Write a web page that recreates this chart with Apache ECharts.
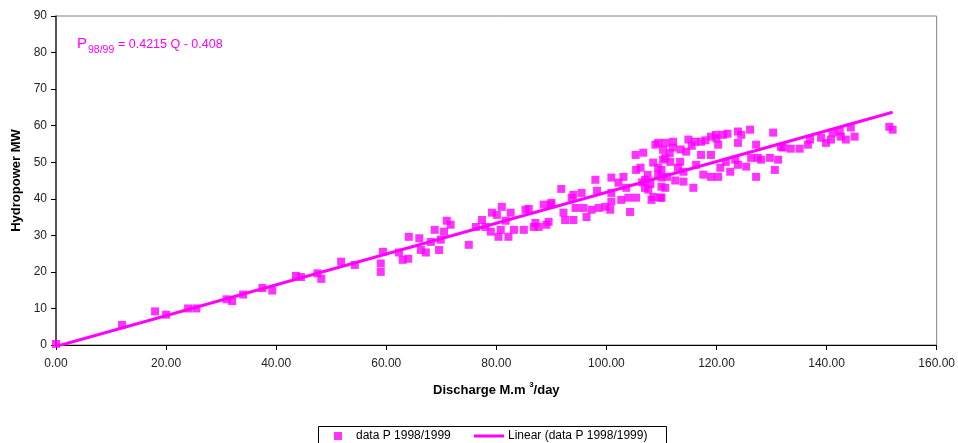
<!DOCTYPE html>
<html>
<head>
<meta charset="utf-8">
<title>Hydropower vs Discharge</title>
<script src="https://cdn.jsdelivr.net/npm/echarts@6/dist/echarts.min.js"></script>
<style>
  html, body { margin: 0; padding: 0; background: #fff; }
  #chart { width: 958px; height: 443px; }
</style>
</head>
<body>
<div id="chart"></div>
<script>
// Daily discharge (M.m3/day) and generated hydropower (MW), season 1998/1999
const discharge = [
  0, 12, 18, 20, 24, 25.5, 31, 32, 34, 37.5, 39.3, 43.6, 44.5, 47.5, 48.2,
  51.8, 54.3, 59.4, 59, 59, 62.3, 63, 64, 64.1, 66, 66.3, 67.2, 68.1, 68.8, 69.6,
  69.9, 70.5, 71, 71.7, 75, 76.3, 77.4, 78, 79, 79.2, 80.1, 81, 80.4, 80.8, 82.2,
  82.6, 81.7, 83.2, 85.3, 85, 86.8, 85.9, 88.6, 89.9, 87.1, 89.5, 87.7, 89.1, 90,
  91.8, 92.5, 92.2, 93.7, 94.4, 95.5, 94, 95.8, 96.4, 94, 97.3, 98, 98.6, 99.8,
  100.7, 100.9, 100.9, 100.9, 102.2, 103.1, 102.7, 104, 103.6, 104.3, 105.4, 105.3,
  106.7, 106.2, 105.4, 107, 107, 107.6, 108.2, 108.5, 108.9, 108.5, 109.4, 109.8,
  110.7, 110.3, 109.4, 110.3, 110.7, 112.1, 112.1, 111.6, 113.4, 114.9, 114.5, 116.1,
  117.2, 119, 119.9, 121.2, 120.3, 119, 123.9, 124.5, 126.1, 123.9, 130.3, 127.2,
  110, 110, 110, 110, 110.7, 114, 114, 115.8, 116.3, 117.6, 119, 120.7, 120.3,
  121.7, 122.5, 123.4, 123.9, 125.4, 126.3, 127.2, 127.5, 128.1, 129.7, 130.6, 131.2,
  132.1, 109.4, 131.7, 133.5, 135.1, 136.6, 137, 139, 139.9, 140.8, 141.1, 142.4,
  142.6, 143.5, 144.4, 145.1, 151.4, 152, 107.5, 108, 106.5, 111, 112.5, 113, 111.5,
  113.5, 115.5, 118, 117.2, 120, 122, 98.3
];
const power = [
  0.3, 5.5, 9.2, 8.3, 10, 10, 12.5, 12, 13.8, 15.6, 14.9, 18.9, 18.6, 19.6, 18.1,
  22.8, 21.9, 25.5, 22.3, 20, 25.3, 23.3, 23.6, 29.6, 29.2, 26, 25.3, 28.2, 31.5, 26,
  28.8, 31, 34, 32.9, 27.4, 32.3, 34.2, 32.3, 31, 36.2, 35.6, 37.8, 29.6, 31.5, 29.6,
  36.2, 34, 31.5, 37, 31.5, 32.3, 37.2, 38.4, 38.4, 33.4, 33.7, 32.3, 32.9, 38.9,
  42.7, 34.2, 36.2, 40.3, 37.5, 41.6, 34.2, 37.5, 35, 41.1, 37, 45.2, 37.5, 37.8,
  37, 45.8, 41.6, 39.2, 44.4, 46, 39.7, 40.3, 43, 36.4, 40.3, 52,
  52.6, 48.5, 47.9, 45.2, 43, 42.5, 39.7, 40.5, 54.8, 49.9, 48.5, 40.3,
  55.3, 50.7, 55.3, 53.4, 51.2, 55.6, 54, 50.1, 50.1, 56.2, 52.9, 55.6,
  55.6, 57, 57.5, 57.5, 54.8, 52, 58.4, 57.5, 58.9, 55.3, 58.1, 54.8,
  47.9, 45.8, 43.3, 40.3, 43, 44.7, 47.4, 43, 49.3, 46.6, 46, 48.5, 46,
  50.1, 47.4, 50.7, 49.3, 48.8, 51.2, 46, 51.2, 50.7, 51.2, 47.9, 50.7,
  54, 46.6, 54.2, 53.7, 53.7, 54.8, 56.2, 56.7, 55.3, 56.2, 58.1, 58.4,
  57, 56.2, 59.5, 57, 59.7, 58.9, 46.5, 44, 44.5, 46, 45, 48.5, 52.5,
  53.5, 54.5, 56, 52, 56.5, 57.8, 42.2
];

// Least-squares trend line: P = 0.4215 Q - 0.408
const trendSlope = 0.4215;
const trendIntercept = -0.408;
const trendRange = [0, 152];

const xTicks = { min: 0, max: 160, step: 20 };
const yTicks = { min: 0, max: 90, step: 10 };

const seriesName = 'data P 1998/1999';
const trendName = 'Linear (data P 1998/1999)';

const MAGENTA = '#FF00FF';
const FONT = '"Liberation Sans", Arial, sans-serif';

const points = discharge.map((q, i) => [q, power[i]]);
const trendPoints = trendRange.map(q => [q, trendSlope * q + trendIntercept]);

const chart = echarts.init(document.getElementById('chart'), null, { renderer: 'canvas' });

chart.setOption({
  animation: false,
  backgroundColor: '#fff',
  textStyle: { fontFamily: FONT },
  grid: {
    left: 56, right: 18, top: 16, bottom: 98,
    show: true, borderColor: '#808080', borderWidth: 1, backgroundColor: 'transparent'
  },
  xAxis: {
    type: 'value',
    min: xTicks.min, max: xTicks.max, interval: xTicks.step,
    name: '{a|Discharge M.m }{s|3}{a|/day}',
    nameLocation: 'middle',
    nameGap: 36,
    nameTextStyle: {
      rich: {
        a: { fontFamily: FONT, fontSize: 13, fontWeight: 'bold', color: '#000', lineHeight: 16, verticalAlign: 'bottom' },
        s: { fontFamily: FONT, fontSize: 8, fontWeight: 'bold', color: '#000', lineHeight: 16, verticalAlign: 'top' }
      }
    },
    axisLine: { show: true, onZero: false, lineStyle: { color: '#000', width: 1 } },
    axisTick: { show: true, inside: false, length: 5, lineStyle: { color: '#000' } },
    axisLabel: {
      margin: 13, fontSize: 12, color: '#222', fontFamily: FONT,
      formatter: v => v.toFixed(2)
    },
    splitLine: { show: false }
  },
  yAxis: {
    type: 'value',
    min: yTicks.min, max: yTicks.max, interval: yTicks.step,
    name: 'Hydropower MW',
    nameLocation: 'middle',
    nameGap: 33,
    nameTextStyle: { fontSize: 13, fontWeight: 'bold', color: '#000', fontFamily: FONT },
    axisLine: { show: true, onZero: false, lineStyle: { color: '#333', width: 1.5 } },
    axisTick: { show: true, inside: false, length: 5, lineStyle: { color: '#000' } },
    axisLabel: { margin: 9, fontSize: 12, color: '#222', fontFamily: FONT },
    splitLine: { show: false }
  },
  legend: [
    {
      data: [seriesName],
      left: 334, top: 430, padding: 0,
      itemWidth: 8, itemHeight: 8,
      icon: 'rect',
      textStyle: { fontSize: 12, color: '#000', fontFamily: FONT, padding: [0, 0, 0, 9] }
    },
    {
      data: [trendName],
      left: 474, top: 430, padding: 0,
      itemWidth: 30, itemHeight: 3,
      icon: 'rect',
      textStyle: { fontSize: 12, color: '#000', fontFamily: FONT, padding: [0, 0, 0, -1] }
    }
  ],
  graphic: [
    {
      type: 'rect',
      shape: { x: 318.5, y: 426.5, width: 348, height: 30 },
      style: { fill: 'none', stroke: '#000', lineWidth: 1 },
      silent: true
    },
    {
      type: 'text', left: 77, top: 36,
      style: { text: 'P', fontSize: 15, fill: MAGENTA, fontFamily: FONT }
    },
    {
      type: 'text', left: 88, top: 45,
      style: { text: '98/99', fontSize: 10.5, fill: MAGENTA, fontFamily: FONT }
    },
    {
      type: 'text', left: 118, top: 38,
      style: { text: '= 0.4215 Q - 0.408', fontSize: 12.5, fill: MAGENTA, fontFamily: FONT }
    }
  ],
  series: [
    {
      name: seriesName,
      type: 'scatter',
      data: points,
      symbol: 'rect',
      symbolSize: 8,
      itemStyle: { color: MAGENTA },
      z: 2
    },
    {
      name: trendName,
      type: 'line',
      data: trendPoints,
      symbol: 'none',
      lineStyle: { color: MAGENTA, width: 3 },
      itemStyle: { color: MAGENTA },
      z: 3
    }
  ]
});
</script>
</body>
</html>
